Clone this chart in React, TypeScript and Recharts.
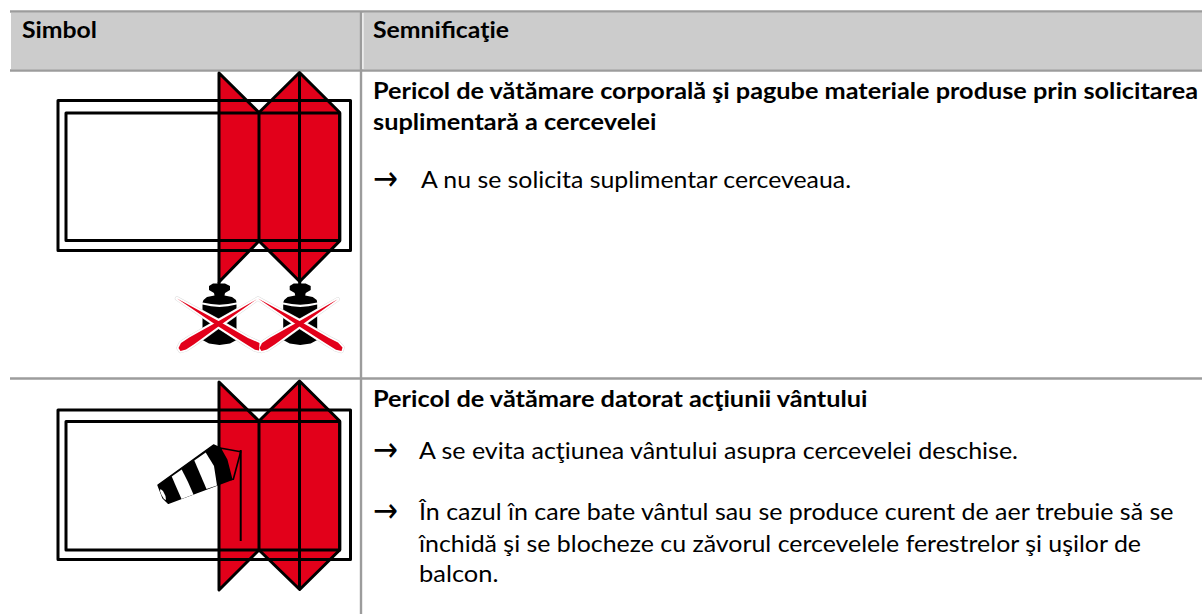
import React from 'react';
import { ScatterChart, Scatter, XAxis, YAxis, ReferenceArea, ReferenceLine } from 'recharts';

type Pt = [number, number];

const RED = '#e2001a';
const GRID = '#9c9c9c';
const LINE_W = 3;

// table rules, in picture units
const hRules: number[][] = [[10, 1202, 11.5], [10, 1202, 70.5], [10, 1202, 378.5]];
const vRules: number[][] = [[361, 11, 614]];
const headerCells: number[][] = [[11, 360, 13, 69], [363.5, 1202, 13, 69]];

// window 1
const sash1: Pt[] = [[219, 73], [259, 112.5], [299.5, 72.5], [339.7, 112.5], [339.7, 241], [299.7, 281.5], [259, 241], [219, 282]];
const sash1Lines: Pt[][] = [[[259, 112.5], [259, 241]], [[299.5, 72.5], [299.5, 281.5]], [[219, 282], [219, 287]], [[299.7, 281.5], [299.7, 287]]];
const outer1: Pt[] = [[58, 100.5], [350.5, 100.5], [350.5, 250.5], [58, 250.5]];
const inner1: Pt[] = [[66, 113], [339.7, 113], [339.7, 240.5], [66, 240.5]];

// window 2
const sash2: Pt[] = [[219, 382], [259, 421], [299.5, 381], [339.7, 421], [339.7, 550], [299.7, 589.5], [259, 550], [219, 590]];
const sash2Lines: Pt[][] = [[[259, 421], [259, 550]], [[299.5, 381], [299.5, 589.5]]];
const outer2: Pt[] = [[58, 410], [350.5, 410], [350.5, 559.5], [58, 559.5]];
const inner2: Pt[] = [[66, 421.5], [339.7, 421.5], [339.7, 550], [66, 550]];

// weights
const knobLeft: Pt[] = [[213, 283.5], [225, 283.5], [230, 286], [230, 290], [225, 293], [224.5, 295.5], [232, 297], [236, 300], [236.5, 302.5], [228, 304], [219.5, 304.7], [211, 304], [202.5, 302.5], [203.5, 300], [207, 297], [214.5, 295.5], [214, 293], [209, 290], [209, 286]];
const bodyLeft: Pt[] = [[202.5, 304.5], [211, 306.2], [219.5, 307], [228, 306.2], [236.5, 304.5], [236.5, 340], [230, 343.5], [219.5, 345], [209, 343.5], [202.5, 340]];
const knobRight: Pt[] = [[293.7, 283.5], [305.7, 283.5], [310.7, 286], [310.7, 290], [305.7, 293], [305.2, 295.5], [312.7, 297], [316.7, 300], [317.2, 302.5], [308.7, 304], [300.2, 304.7], [291.7, 304], [283.2, 302.5], [284.2, 300], [287.7, 297], [295.2, 295.5], [294.7, 293], [289.7, 290], [289.7, 286]];
const bodyRight: Pt[] = [[283.2, 304.5], [291.7, 306.2], [300.2, 307], [308.7, 306.2], [317.2, 304.5], [317.2, 340], [310.7, 343.5], [300.2, 345], [289.7, 343.5], [283.2, 340]];

// crossed-out strokes over the weights
const crossArms: Pt[][] = [
  [[177, 298.5], [216.5, 325.2], [244.6, 343.3], [255, 349.7], [259, 350.5], [259.5, 343], [248, 337.9], [218.9, 321.2]],
  [[256.7, 299.3], [219.5, 325.7], [193.7, 344.4], [186, 349.5], [180.5, 351], [178.5, 348], [181, 343], [189.3, 337.6], [217, 321.9]],
  [[258, 298.5], [297.5, 325.2], [325.6, 343.3], [336, 349.7], [341.5, 351], [342.5, 347.5], [338, 342.5], [329, 337.9], [299.9, 321.2]],
  [[337.7, 299.3], [300.5, 325.7], [274.7, 344.4], [267, 349.5], [261.5, 351], [259.5, 348], [262, 343], [270.3, 337.6], [298, 321.9]],
];

// windsock
const sockBody: Pt[] = [[158, 485], [213.5, 445], [220, 448], [226.7, 460], [231.7, 479.5], [168.3, 503.3], [163, 498]];
const sockTail: Pt[] = [[220, 448], [240.7, 451.7], [233.3, 479.3], [231.7, 479.5], [226.7, 460]];
const sockMouth: Pt[] = [[160.5, 489], [163, 491], [165.5, 496], [166, 500], [164, 499], [161.5, 495], [160, 491]];
const sockStripes: Pt[][] = [
  [[171.7, 476.5], [181.7, 469.5], [188, 482], [193.5, 494.5], [181.5, 499]],
  [[194.3, 460.5], [205.7, 452.5], [214, 466], [217, 485.5], [206.5, 489]],
];
const sockPole: Pt[] = [[240.7, 450], [240.7, 541]];

const headerLabels = ['Simbol', 'Semnificaţie'];
const textBold = [
  'Pericol de vătămare corporală şi pagube materiale produse prin solicitarea',
  'suplimentară a cercevelei',
  'Pericol de vătămare datorat acţiunii vântului',
];
const textPlain = [
  'A nu se solicita suplimentar cerceveaua.',
  'A se evita acţiunea vântului asupra cercevelei deschise.',
  'În cazul în care bate vântul sau se produce curent de aer trebuie să se',
  'închidă şi se blocheze cu zăvorul cercevelele ferestrelor şi uşilor de',
  'balcon.',
];
const headerAnchors: number[][] = [[22, 37.5, 97], [373, 37.5, 509]];
const boldAnchors: number[][] = [[373, 99, 1198], [373, 130, 656.5], [373, 407, 867.5]];
const plainAnchors: number[][] = [[421, 188, 851], [419, 459, 1018], [419, 520, 1173.5], [419, 552, 1141], [419, 582, 498.5]];
const arrowAnchors: number[][] = [[373, 190, 398], [373, 461, 398], [373, 522, 398]];

const toXY = (pts: Pt[]) => pts.map(([x, y]) => ({ x, y }));
const NoPoint = () => <g />;

const shapeOf = (pts: Pt[], fill: string, stroke: string, strokeWidth: number) => (
  <Scatter
    data={toXY(pts)}
    line={{ fill, stroke, strokeWidth, strokeLinejoin: 'round' }}
    lineJointType="linearClosed"
    shape={NoPoint}
    isAnimationActive={false}
  />
);

const lineOf = (pts: Pt[], strokeWidth = LINE_W) => (
  <Scatter
    data={toXY(pts)}
    line={{ stroke: '#000', strokeWidth }}
    shape={NoPoint}
    isAnimationActive={false}
  />
);

const LabelPoint = (props: any) => {
  const { cx, cy, payload } = props;
  return (
    <text
      x={cx}
      y={cy}
      textLength={payload.end - payload.x}
      lengthAdjust="spacingAndGlyphs"
      fontFamily={payload.arrow ? 'DejaVu Sans' : 'Lato'}
      fontSize={payload.arrow ? 34 : 23}
      fontWeight={payload.bold ? 700 : 400}
      fill="#000"
    >
      {payload.text}
    </text>
  );
};

const labelRows = (texts: string[], anchors: number[][], bold: boolean, arrow = false) =>
  texts.map((text, i) => ({ x: anchors[i][0], y: anchors[i][1], end: anchors[i][2], text, bold, arrow }));

const labelData = [
  ...labelRows(headerLabels, headerAnchors, true),
  ...labelRows(textBold, boldAnchors, true),
  ...labelRows(textPlain, plainAnchors, false),
  ...labelRows(['→', '→', '→'], arrowAnchors, false, true),
];

export default function App() {
  return (
    <div style={{ position: 'absolute', left: 0, top: 0, width: 1202, height: 614, background: '#fff' }}>
      <ScatterChart width={1202} height={614} margin={{ top: 0, right: 0, bottom: 0, left: 0 }}>
        <XAxis type="number" dataKey="x" domain={[0, 1202]} hide />
        <YAxis type="number" dataKey="y" domain={[0, 614]} reversed hide />

        {headerCells.map(([x1, x2, y1, y2], i) => (
          <ReferenceArea key={i} x1={x1} x2={x2} y1={y1} y2={y2} fill="#cccccc" fillOpacity={1} stroke="none" />
        ))}
        {hRules.map(([x1, x2, y], i) => (
          <ReferenceLine key={i} segment={[{ x: x1, y }, { x: x2, y }]} stroke={GRID} strokeWidth={2.5} />
        ))}
        {vRules.map(([x, y1, y2], i) => (
          <ReferenceLine key={i} segment={[{ x, y: y1 }, { x, y: y2 }]} stroke={GRID} strokeWidth={2.4} />
        ))}

        {shapeOf(sash1, RED, '#000', LINE_W)}
        {shapeOf(outer1, 'none', '#000', LINE_W)}
        {shapeOf(inner1, 'none', '#000', LINE_W)}
        {sash1Lines.map((pts) => lineOf(pts))}

        {shapeOf(knobLeft, '#000', 'none', 0)}
        {shapeOf(bodyLeft, '#000', 'none', 0)}
        {shapeOf(knobRight, '#000', 'none', 0)}
        {shapeOf(bodyRight, '#000', 'none', 0)}
        {crossArms.map((pts) => shapeOf(pts, '#fff', '#dcdcdc', 4.4))}
        {crossArms.map((pts) => shapeOf(pts, '#fff', '#fff', 3.4))}
        {crossArms.map((pts) => shapeOf(pts, RED, 'none', 0))}

        {shapeOf(sash2, RED, '#000', LINE_W)}
        {shapeOf(outer2, 'none', '#000', LINE_W)}
        {shapeOf(inner2, 'none', '#000', LINE_W)}
        {sash2Lines.map((pts) => lineOf(pts))}

        {shapeOf(sockBody, '#000', '#000', 1.5)}
        {sockStripes.map((pts) => shapeOf(pts, '#fff', 'none', 0))}
        {shapeOf(sockMouth, '#fff', 'none', 0)}
        {shapeOf(sockTail, RED, '#000', 1.6)}
        {lineOf(sockPole, 2)}

        <Scatter data={labelData} shape={LabelPoint} isAnimationActive={false} />
      </ScatterChart>
    </div>
  );
}
